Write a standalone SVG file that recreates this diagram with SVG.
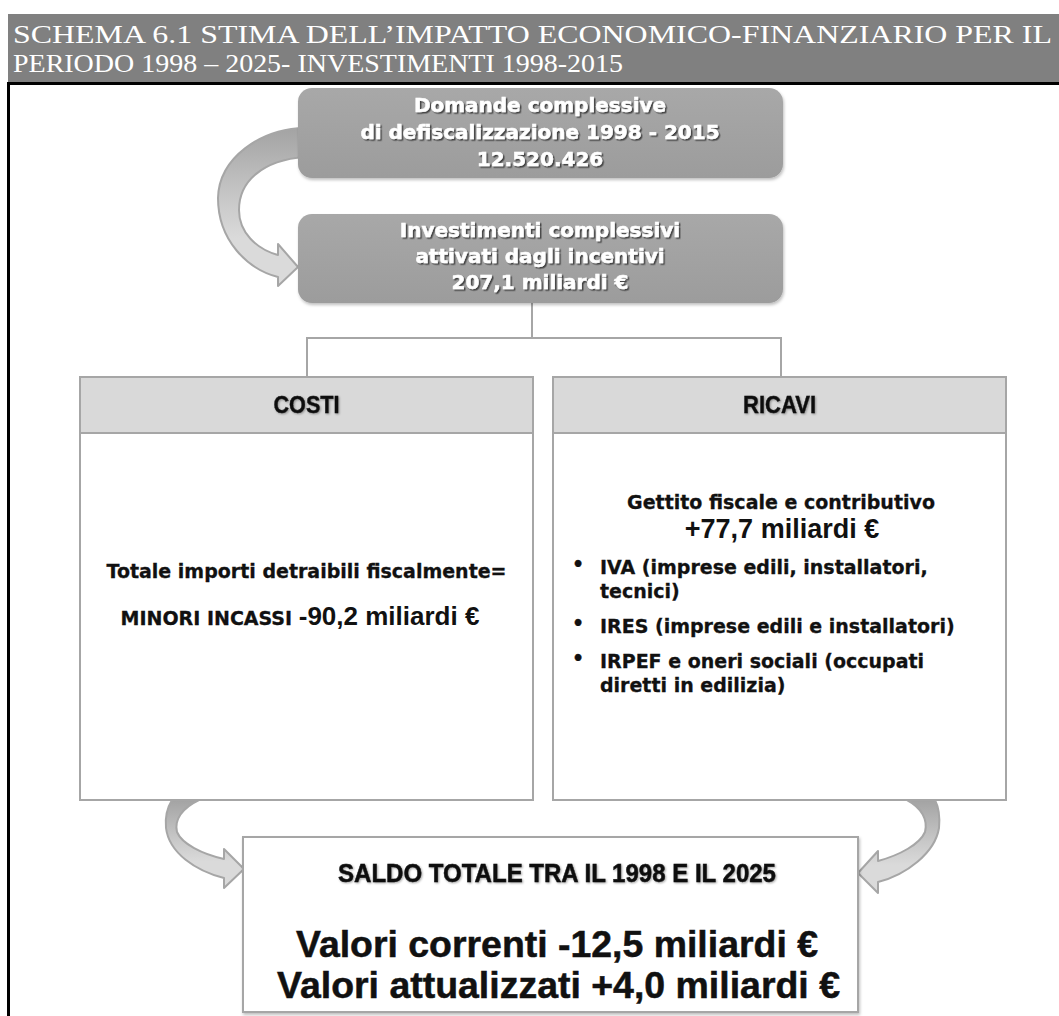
<svg xmlns="http://www.w3.org/2000/svg" width="1059" height="1016" viewBox="0 0 1059 1016">
<style>
.title{font-family:"Liberation Serif","Times New Roman",serif;font-size:26px;fill:#ffffff}
.boxtxt{font-family:"DejaVu Sans",sans-serif;font-weight:bold;font-size:20px;fill:#ffffff;stroke:#ffffff;stroke-width:0.5;text-anchor:middle}
.hdr{font-family:"Liberation Sans",Arial,sans-serif;font-weight:bold;font-size:24px;fill:#111;stroke:#111;stroke-width:0.4;text-anchor:middle}
.heavy{font-family:"DejaVu Sans",sans-serif;font-weight:bold;font-size:19px;fill:#111;stroke:#111;stroke-width:0.3}
.big{font-family:"Liberation Sans",Arial,sans-serif;font-weight:bold;fill:#111}
.cond{font-family:"Liberation Sans",Arial,sans-serif;font-weight:bold;fill:#111;stroke:#111;stroke-width:0.5;text-anchor:middle}
.panel{fill:#ffffff;stroke:#a6a6a6;stroke-width:2}
.panelhdr{fill:#d9d9d9;stroke:#a6a6a6;stroke-width:2}
.conn{fill:none;stroke:#a6a6a6;stroke-width:2}
.arrow{fill:url(#arrowGrad);stroke:#a6a6a6;stroke-width:2;stroke-linejoin:round}
</style>
<defs>
<linearGradient id="boxGrad" x1="0" y1="0" x2="0" y2="1">
<stop offset="0" stop-color="#a8a8a8"/>
<stop offset="1" stop-color="#9c9c9c"/>
</linearGradient>
<linearGradient id="arrowGrad" x1="0" y1="0" x2="0" y2="1">
<stop offset="0" stop-color="#a3a3a3"/>
<stop offset="0.45" stop-color="#c8c8c8"/>
<stop offset="0.7" stop-color="#dadada"/>
<stop offset="1" stop-color="#dadada"/>
</linearGradient>
<filter id="txtShadow" x="-10%" y="-30%" width="120%" height="160%">
<feDropShadow dx="1.5" dy="1.5" stdDeviation="0.7" flood-color="#333333" flood-opacity="0.85"/>
</filter>
<filter id="softShadow" x="-10%" y="-30%" width="120%" height="160%">
<feDropShadow dx="1" dy="1" stdDeviation="0.8" flood-color="#000000" flood-opacity="0.35"/>
</filter>
<filter id="boxShadow" x="-5%" y="-10%" width="110%" height="125%">
<feDropShadow dx="1" dy="2" stdDeviation="1.5" flood-color="#000000" flood-opacity="0.25"/>
</filter>
</defs>
<rect width="1059" height="1016" fill="#ffffff"/>

<g id="header">
<rect x="8" y="14" width="1051" height="68" fill="#808080"/>
<line x1="8" y1="83.5" x2="1059" y2="83.5" stroke="#000" stroke-width="3"/>
<line x1="8.5" y1="82" x2="8.5" y2="1016" stroke="#000" stroke-width="3"/>
<text class="title" x="13" y="43" textLength="1039" lengthAdjust="spacingAndGlyphs">SCHEMA 6.1 STIMA DELL’IMPATTO ECONOMICO-FINANZIARIO PER IL</text>
<text class="title" x="13" y="72" textLength="610" lengthAdjust="spacingAndGlyphs">PERIODO 1998 – 2025- INVESTIMENTI 1998-2015</text>
</g>

<g id="connectors">
<path class="conn" d="M532,303 V338 M307,338 H781 M307,337 V377 M781,337 V377"/>
<path id="arrow-top" class="arrow" d="M305,128 C260,129 219,158 218,198 C218,240 247,269 278,277 L278,286 L298,267 L278,244 L278,255 C256,249 239,232 239,210 C239,182 262,160 305,157 Z"/>
<path id="arrow-left" class="arrow" d="M172,800 C167,808 165,818 166,828 C169,853 196,871 224,878 L224,888 L244,869 L224,849 L224,859 C202,854 182,844 177,832 C174,820 182,808 199,800 Z"/>
<path id="arrow-right" class="arrow" d="M935,800 C939,808 940,818 939,828 C935,853 906,875 878,882 L878,893 L858,873 L878,851 L878,861 C900,855 920,844 925,832 C928,820 922,808 907,800 Z"/>
</g>

<g id="node-domande" filter="url(#boxShadow)">
<rect x="298" y="88" width="485" height="90" rx="14" fill="url(#boxGrad)"/>
<g filter="url(#txtShadow)">
<text class="boxtxt" x="540" y="112">Domande complessive</text>
<text class="boxtxt" x="540" y="139">di defiscalizzazione 1998 - 2015</text>
<text class="boxtxt" x="540" y="166">12.520.426</text>
</g>
</g>

<g id="node-investimenti" filter="url(#boxShadow)">
<rect x="298" y="214" width="485" height="89" rx="14" fill="url(#boxGrad)"/>
<g filter="url(#txtShadow)">
<text class="boxtxt" x="540" y="237">Investimenti complessivi</text>
<text class="boxtxt" x="540" y="263">attivati dagli incentivi</text>
<text class="boxtxt" x="540" y="289">207,1 miliardi €</text>
</g>
</g>

<g id="node-costi">
<rect class="panel" x="80" y="377" width="453" height="423"/>
<rect class="panelhdr" x="80" y="377" width="453" height="56"/>
<text class="hdr" x="306.5" y="413" textLength="66" lengthAdjust="spacingAndGlyphs" filter="url(#softShadow)">COSTI</text>
<text class="heavy" x="306.5" y="578" text-anchor="middle">Totale importi detraibili fiscalmente=</text>
<text x="300" y="625" text-anchor="middle"><tspan class="heavy" font-size="18">MINORI INCASSI </tspan><tspan class="big" font-size="26">-90,2 miliardi €</tspan></text>
</g>

<g id="node-ricavi">
<rect class="panel" x="553" y="377" width="453" height="423"/>
<rect class="panelhdr" x="553" y="377" width="453" height="56"/>
<text class="hdr" x="779.5" y="413" textLength="73" lengthAdjust="spacingAndGlyphs" filter="url(#softShadow)">RICAVI</text>
<text class="heavy" x="781" y="509" text-anchor="middle" font-size="18.5">Gettito fiscale e contributivo</text>
<text class="big" x="782" y="538" text-anchor="middle" font-size="27">+77,7 miliardi €</text>
<g class="heavy" font-size="10">
<text x="572" y="571">•</text>
<text x="572" y="630">•</text>
<text x="572" y="665">•</text>
</g>
<text class="heavy" x="600" y="574">IVA (imprese edili, installatori,</text>
<text class="heavy" x="600" y="598">tecnici)</text>
<text class="heavy" x="600" y="633">IRES (imprese edili e installatori)</text>
<text class="heavy" x="600" y="668">IRPEF e oneri sociali (occupati</text>
<text class="heavy" x="600" y="692">diretti in edilizia)</text>
</g>

<g id="node-saldo">
<rect class="panel" x="243" y="837" width="615" height="175" filter="url(#boxShadow)"/>
<text class="cond" x="557" y="882" font-size="25" textLength="438" lengthAdjust="spacingAndGlyphs" filter="url(#softShadow)">SALDO TOTALE TRA IL 1998 E IL 2025</text>
<text class="cond" x="557" y="957" font-size="36" textLength="522" lengthAdjust="spacingAndGlyphs">Valori correnti -12,5 miliardi €</text>
<text class="cond" x="558.5" y="998" font-size="36" textLength="563" lengthAdjust="spacingAndGlyphs">Valori attualizzati +4,0 miliardi €</text>
</g>
</svg>
